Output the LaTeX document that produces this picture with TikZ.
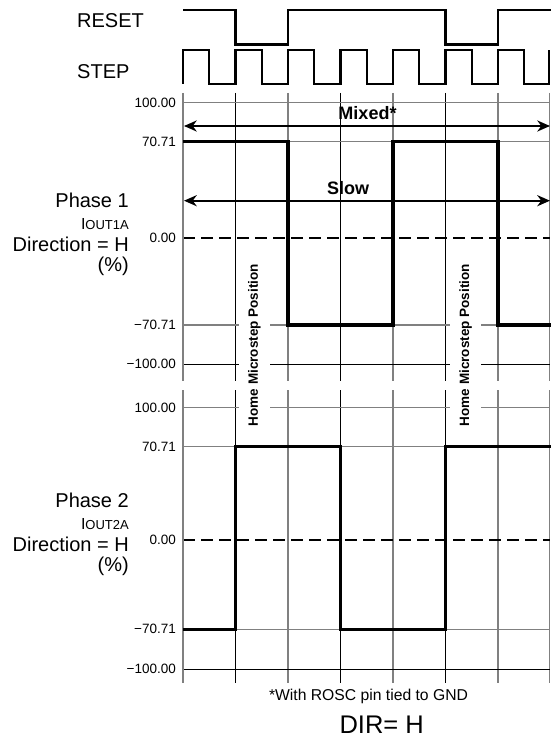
\documentclass[tikz,border=0pt]{standalone}
\usepackage{fontspec}
\setmainfont{Liberation Sans}
\usetikzlibrary{arrows.meta}
\newcommand\fsz[1]{\fontsize{#1}{#1}\selectfont}
\definecolor{gridgray}{RGB}{128,128,128}
\begin{document}
\begin{tikzpicture}[x=1pt,y=-1pt,
  ggrid/.style={draw=gridgray,line width=1.3pt},
  bgrid/.style={draw=black,line width=1pt},
  axisline/.style={draw=gridgray,line width=2pt},
  zeroline/.style={draw=black,line width=2pt,dash pattern=on 11.5pt off 6.5pt},
  wave/.style={draw=black,line width=3.4pt,line join=miter},
  sig/.style={draw=black,line width=2.2pt,line join=miter},
  ticklab/.style={anchor=east,inner sep=0pt,font=\fsz{13.5}},
  sidelab/.style={anchor=base east,inner sep=0pt,font=\fsz{20}},
  siglab/.style={anchor=base west,inner sep=0pt,font=\fsz{20}},
  spanarrow/.style={draw=black,line width=2.4pt,{Stealth[length=12.7pt,width=11pt,inset=4pt]}-{Stealth[length=12.7pt,width=11pt,inset=4pt]}},
  spanlab/.style={anchor=base,inner sep=0pt,font=\bfseries\fsz{18}},
  homelab/.style={rotate=90,fill=white,font=\bfseries\fsz{13.5},inner xsep=2pt,inner ysep=9pt},
]
\useasboundingbox (0,0) rectangle (550,738);

% ---------- RESET / STEP ----------
\node[siglab] (lreset) at (77,28) {RESET};
\node[siglab] (lstep) at (77,79) {STEP};
\draw[sig] (183,10) -- (235.5,10) -- (235.5,44.5) -- (288,44.5) -- (288,10) -- (445.5,10)
  -- (445.5,44.5) -- (498,44.5) -- (498,10) -- (551,10);
\draw[sig] (183,84) -- (183,50) -- (209.25,50) -- (209.25,84) -- (235.5,84) -- (235.5,50)
  -- (261.75,50) -- (261.75,84) -- (288,84) -- (288,50) -- (314.25,50) -- (314.25,84)
  -- (340.5,84) -- (340.5,50) -- (366.75,50) -- (366.75,84) -- (393,84) -- (393,50)
  -- (419.25,50) -- (419.25,84) -- (445.5,84) -- (445.5,50) -- (471.75,50) -- (471.75,84)
  -- (498,84) -- (498,50) -- (524.25,50) -- (524.25,84) -- (549.2,84) -- (549.2,50);

% ---------- Phase 1 grid ----------
\foreach \x in {288,393,498,549.5} \draw[ggrid] (\x,93) -- (\x,380.5);
\foreach \x in {235.5,340.5,445.5} \draw[bgrid] (\x,93) -- (\x,380.5);
\foreach \y in {102.7,141.7,325} \draw[ggrid] (183,\y) -- (550,\y);
\draw[bgrid] (183,364) -- (550,364);
\draw[zeroline] (183,237.7) -- (550,237.7);
\draw[axisline] (183,93) -- (183,380.5);

% ---------- Phase 2 grid ----------
\foreach \x in {288,393,498,549.5} \draw[ggrid] (\x,390) -- (\x,683);
\foreach \x in {235.5,340.5,445.5} \draw[bgrid] (\x,390) -- (\x,683);
\foreach \y in {407.7,446.7,629.3} \draw[ggrid] (183,\y) -- (550,\y);
\draw[bgrid] (183,669.3) -- (550,669.3);
\draw[zeroline] (183,540) -- (550,540);
\draw[axisline] (183,390) -- (183,683);

% ---------- tick labels ----------
\node[ticklab] (t1a) at (176,102.7) {100.00};
\node[ticklab] (t1b) at (176,141.7) {70.71};
\node[ticklab] (t1c) at (176,237.7) {0.00};
\node[ticklab] (t1d) at (176,325) {−70.71};
\node[ticklab] (t1e) at (176,364) {−100.00};
\node[ticklab] (t2a) at (176,407.7) {100.00};
\node[ticklab] (t2b) at (176,446.7) {70.71};
\node[ticklab] (t2c) at (176,540) {0.00};
\node[ticklab] (t2d) at (176,629.3) {−70.71};
\node[ticklab] (t2e) at (176,669.3) {−100.00};

% ---------- side labels ----------
\node[sidelab] (p1a) at (129,207.3) {Phase 1};
\node[sidelab] (p1b) at (129,229) {{\fsz{16}I}{\fsz{13}OUT1A}};
\node[sidelab] (p1c) at (129,251.7) {Direction = H};
\node[sidelab] (p1d) at (129,271.7) {(\%)};
\node[sidelab] (p2a) at (129,507.3) {Phase 2};
\node[sidelab] (p2b) at (129,529) {{\fsz{16}I}{\fsz{13}OUT2A}};
\node[sidelab] (p2c) at (129,551.7) {Direction = H};
\node[sidelab] (p2d) at (129,571.7) {(\%)};

% ---------- home labels ----------
\node[homelab] (home1) at (254.5,345) {Home Microstep Position};
\node[homelab] (home2) at (465.7,345) {Home Microstep Position};

% ---------- waveforms ----------
\draw[wave] (183,141.7) -- (288,141.7) -- (288,325) -- (393,325) -- (393,141.7)
  -- (498,141.7) -- (498,325) -- (551,325);
\draw[wave] (183,629.3) -- (235.5,629.3) -- (235.5,446.7) -- (340.5,446.7) -- (340.5,629.3)
  -- (445.5,629.3) -- (445.5,446.7) -- (551,446.7);

% ---------- span arrows ----------
\coordinate (mixL) at (184,126);
\coordinate (mixR) at (550,126);
\coordinate (slowL) at (184,200.7);
\coordinate (slowR) at (550,200.7);
\draw[spanarrow] (mixL) -- (mixR);
\draw[spanarrow] (slowL) -- (slowR);
\node[spanlab] (lmix) at (367.5,119.3) {Mixed*};
\node[spanlab] (lslow) at (348,194) {Slow};

% ---------- bottom ----------
\node[anchor=base,inner sep=0pt,font=\fsz{15.7}] (note) at (368.5,700.7) {*With ROSC pin tied to GND};
\node[anchor=base,inner sep=0pt,font=\fsz{25.5}] (dir) at (381.7,733) {DIR= H};
\end{tikzpicture}
\end{document}
